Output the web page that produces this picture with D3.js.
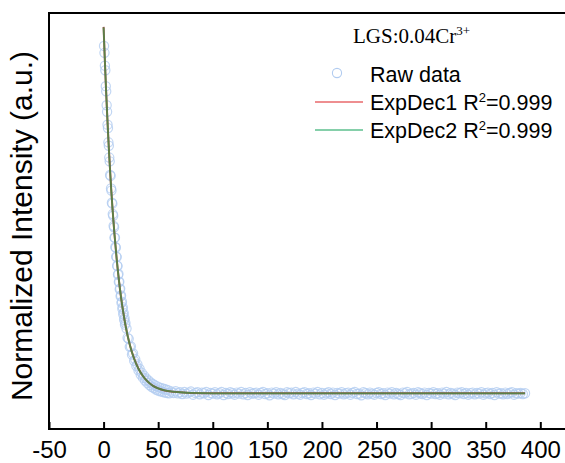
<!DOCTYPE html>
<html>
<head>
<meta charset="utf-8">
<script src="https://cdn.jsdelivr.net/npm/d3@7"></script>
<style>
  body { margin: 0; background: #fff; }
  svg { display: block; }
</style>
</head>
<body>
<svg id="chart"></svg>
<script>
// raw decay data (time in us, normalized intensity)
const rawTime = [
  0.4, 0.8, 1.2, 1.6, 2.0, 2.4, 2.8, 3.2, 3.6, 4.0, 4.4, 4.8, 5.2, 5.6, 6.0, 6.4, 6.8, 7.2, 7.6, 8.0,
  8.4, 8.8, 9.2, 9.6, 10.0, 10.4, 10.8, 11.2, 11.6, 12.0, 12.4, 12.8, 13.2, 13.6, 14.0, 14.4, 14.8, 15.2, 15.6, 16.0,
  16.4, 16.8, 17.2, 17.6, 18.0, 18.4, 18.8, 19.2, 19.6, 20.0,
  21, 22, 23, 24, 25, 26, 27, 28, 29, 30, 31, 32, 33, 34, 35, 36, 37, 38, 39, 40,
  41, 42, 43, 44, 45, 46, 47, 48, 49, 50, 51, 52, 53, 54, 55, 56, 57, 58, 59, 60,
  62, 64, 66, 68, 70, 72, 74, 76, 78, 80, 82, 84, 86, 88, 90, 92, 94, 96, 98, 100,
  102, 104, 106, 108, 110, 112, 114, 116, 118, 120, 122, 124, 126, 128, 130, 132, 134, 136, 138, 140,
  142, 144, 146, 148, 150, 152, 154, 156, 158, 160, 162, 164, 166, 168, 170, 172, 174, 176, 178, 180,
  182, 184, 186, 188, 190, 192, 194, 196, 198, 200, 202, 204, 206, 208, 210, 212, 214, 216, 218, 220,
  222, 224, 226, 228, 230, 232, 234, 236, 238, 240, 242, 244, 246, 248, 250, 252, 254, 256, 258, 260,
  262, 264, 266, 268, 270, 272, 274, 276, 278, 280, 282, 284, 286, 288, 290, 292, 294, 296, 298, 300,
  302, 304, 306, 308, 310, 312, 314, 316, 318, 320, 322, 324, 326, 328, 330, 332, 334, 336, 338, 340,
  342, 344, 346, 348, 350, 352, 354, 356, 358, 360, 362, 364, 366, 368, 370, 372, 374, 376, 378, 380,
  382, 384, 386
];
const rawValue = [
  1.005, 0.985, 0.948, 0.935, 0.889, 0.874, 0.834, 0.815, 0.778, 0.768, 0.727, 0.717, 0.683, 0.672, 0.633, 0.630, 0.594, 0.588, 0.553, 0.550,
  0.520, 0.515, 0.486, 0.482, 0.452, 0.452, 0.425, 0.423, 0.397, 0.396, 0.371, 0.370, 0.345, 0.347, 0.324, 0.325, 0.303, 0.305, 0.283, 0.285,
  0.264, 0.267, 0.247, 0.251, 0.231, 0.235, 0.215, 0.220, 0.201, 0.206,
  0.190, 0.163, 0.160, 0.137, 0.138, 0.115, 0.118, 0.097, 0.101, 0.082, 0.086, 0.069, 0.073, 0.057, 0.062, 0.048, 0.054, 0.040, 0.046, 0.033,
  0.040, 0.027, 0.034, 0.022, 0.030, 0.018, 0.026, 0.014, 0.023, 0.011, 0.020, 0.009, 0.018, 0.007, 0.016, 0.005, 0.014, 0.004, 0.012, 0.003,
  0.008, 0.004, 0.009, 0.003, 0.006, 0.001, 0.007, 0.002, 0.005, 0.008, -0.001, 0.004, 0.006, 0.000, 0.005, 0.003, 0.007, -0.002, 0.004, 0.002,
  0.006, 0.000, 0.003, 0.007, -0.002, 0.004, 0.001, 0.006, 0.003, -0.001, 0.005, 0.002, 0.007, 0.000, 0.004, -0.002, 0.006, 0.002, 0.003, 0.005,
  -0.001, 0.004, 0.007, 0.001, 0.003, -0.003, 0.005, 0.002, 0.006, 0.000, 0.004, 0.001, -0.002, 0.006, 0.003, 0.005, 0.000, 0.007, 0.002, -0.001,
  0.004, 0.006, 0.001, 0.003, -0.002, 0.005, 0.002, 0.007, 0.000, 0.004, -0.001, 0.003, 0.006, 0.001, 0.005, -0.002, 0.004, 0.002, 0.006, 0.000,
  0.003, 0.005, -0.001, 0.004, 0.007, 0.001, 0.002, -0.003, 0.006, 0.003, 0.000, 0.005, 0.002, -0.001, 0.004, 0.006, 0.001, 0.003, -0.002, 0.005,
  0.002, 0.006, 0.000, 0.004, 0.001, -0.002, 0.005, 0.003, 0.007, 0.000, 0.002, 0.004, -0.001, 0.006, 0.003, 0.001, 0.005, -0.002, 0.004, 0.002,
  0.006, 0.001, 0.003, -0.001, 0.005, 0.002, 0.007, 0.000, 0.004, 0.002, -0.002, 0.005, 0.003, 0.006, 0.001, 0.004, -0.001, 0.003, 0.005, 0.000,
  0.004, 0.002, 0.006, -0.001, 0.003, 0.005, 0.001, 0.004, -0.002, 0.006, 0.002, 0.003, 0.000, 0.005, 0.001, 0.004, 0.006, -0.001, 0.003, 0.002,
  0.004, 0.001, 0.003
];

// fitted curves
const fitTime = [0, 1, 2, 3, 4, 5, 6, 7, 8, 9, 10, 12, 14, 16, 18, 20, 24, 28, 32, 36, 40, 45, 50, 55, 60, 70, 80, 100, 150, 200, 250, 300, 350, 386];
const expDec1 = [1.060, 0.975, 0.897, 0.826, 0.760, 0.699, 0.643, 0.591, 0.544, 0.501, 0.461, 0.390, 0.330, 0.279, 0.237, 0.200, 0.143, 0.103, 0.074, 0.053, 0.038, 0.025, 0.017, 0.012, 0.009, 0.006, 0.004, 0.003, 0.003, 0.003, 0.003, 0.003, 0.003, 0.003];
const expDec2 = [1.058, 0.976, 0.899, 0.827, 0.760, 0.698, 0.642, 0.590, 0.543, 0.500, 0.460, 0.390, 0.331, 0.280, 0.237, 0.200, 0.143, 0.102, 0.073, 0.053, 0.038, 0.025, 0.017, 0.012, 0.009, 0.006, 0.004, 0.003, 0.003, 0.003, 0.003, 0.003, 0.003, 0.003];

const xTicks = [-50, 0, 50, 100, 150, 200, 250, 300, 350, 400];

const width = 565, height = 463;
const svg = d3.select("#chart").attr("width", width).attr("height", height);

const xScale = d3.scaleLinear().domain([-50, 425]).range([49, 567.6]);
const yScale = d3.scaleLinear().domain([-0.1, 1.1]).range([429, 13]);

// raw data circles
svg.append("g")
    .selectAll("circle")
    .data(rawTime)
    .enter()
    .append("circle")
    .attr("cx", d => xScale(d))
    .attr("cy", (_, i) => yScale(rawValue[i]))
    .attr("r", 4.6)
    .attr("fill", "none")
    .attr("stroke", "#b2ccf0")
    .attr("stroke-opacity", 0.8)
    .attr("stroke-width", 1.2);

// fit lines (red under, green over -> olive look)
const line1 = d3.line()
    .x((_, i) => xScale(fitTime[i]))
    .y(d => yScale(d))
    .curve(d3.curveMonotoneX);

svg.append("path")
    .datum(expDec1)
    .attr("fill", "none")
    .attr("stroke", "#a0504a")
    .attr("stroke-width", 2)
    .attr("d", line1);

svg.append("path")
    .datum(expDec2)
    .attr("fill", "none")
    .attr("stroke", "#4e8a48")
    .attr("stroke-opacity", 0.85)
    .attr("stroke-width", 1.8)
    .attr("d", line1);

// frame
svg.append("rect")
    .attr("x", xScale(-50))
    .attr("y", yScale(1.1))
    .attr("width", xScale(425) - xScale(-50))
    .attr("height", yScale(-0.1) - yScale(1.1))
    .attr("fill", "none")
    .attr("stroke", "#000")
    .attr("stroke-width", 2);

// bottom axis, ticks pointing in
const xAxisGroup = svg.append("g")
    .attr("transform", `translate(0,${yScale(-0.1)})`)
    .call(d3.axisBottom(xScale).tickValues(xTicks).tickFormat(d => String(d))
        .tickSizeInner(-7).tickSizeOuter(0).tickPadding(12));

xAxisGroup.select(".domain").remove();
xAxisGroup.selectAll("line").attr("stroke", "#000").attr("stroke-width", 2);
xAxisGroup.selectAll("text")
    .attr("fill", "#000")
    .style("font-family", "Liberation Sans, Arial, sans-serif")
    .style("font-size", "24px");

// y label
svg.append("text")
    .attr("transform", "translate(32,226) rotate(-90)")
    .attr("text-anchor", "middle")
    .style("font-family", "Liberation Sans, Arial, sans-serif")
    .style("font-size", "30px")
    .text("Normalized Intensity (a.u.)");

// legend
const title = svg.append("text")
    .attr("x", 353)
    .attr("y", 43)
    .style("font-family", "Liberation Serif, Times New Roman, serif")
    .style("font-size", "21px");
title.append("tspan").text("LGS:0.04Cr");
title.append("tspan").attr("dy", -8).style("font-size", "13px").text("3+");

svg.append("circle")
    .attr("cx", 337).attr("cy", 73).attr("r", 4.6)
    .attr("fill", "none").attr("stroke", "#b2ccf0").attr("stroke-width", 1.1);

svg.append("text")
    .attr("x", 370).attr("y", 81.5)
    .style("font-family", "Liberation Sans, Arial, sans-serif")
    .style("font-size", "21.5px")
    .text("Raw data");

const legendFits = [
    { name: "ExpDec1", color: "#e8696b", y: 110 },
    { name: "ExpDec2", color: "#5cbf8e", y: 138 }
];

legendFits.forEach(f => {
    svg.append("line")
        .attr("x1", 315).attr("x2", 363)
        .attr("y1", f.y - 8).attr("y2", f.y - 8)
        .attr("stroke", f.color)
        .attr("stroke-width", 1.6);
    const t = svg.append("text")
        .attr("x", 370).attr("y", f.y)
        .style("font-family", "Liberation Sans, Arial, sans-serif")
        .style("font-size", "21.5px");
    t.append("tspan").text(f.name + " R");
    t.append("tspan").attr("dy", -8).style("font-size", "13px").text("2");
    t.append("tspan").attr("dy", 8).text("=0.999");
});
</script>
</body>
</html>
